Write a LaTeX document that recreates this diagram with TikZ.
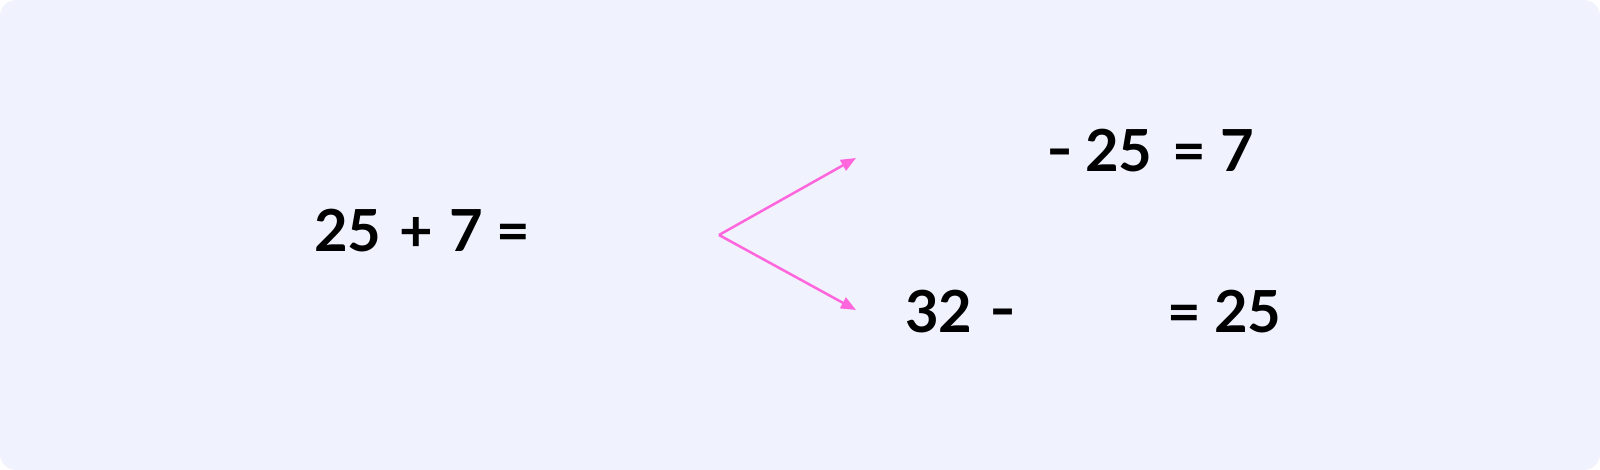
\documentclass[tikz,border=0pt]{standalone}
\usepackage{fontspec}
\setmainfont{Lato}
\usetikzlibrary{arrows.meta}
\definecolor{bgc}{HTML}{F0F3FE}
\definecolor{pinkc}{HTML}{FF66DD}
\newcommand{\mydash}{\raisebox{2.5pt}{\scalebox{1.25}[1]{-}}}
\tikzset{
  eq/.style={anchor=base west, inner sep=0pt, font=\fontsize{58}{70}\selectfont\bfseries, text=black},
  conn/.style={draw=pinkc, line width=2.5pt, -{Triangle[length=15pt,width=12pt]}}
}
\begin{document}
\begin{tikzpicture}[x=1pt,y=-1pt]
\useasboundingbox (0,0) rectangle (1600,470);
\fill[white] (0,0) rectangle (1600,470);
\fill[bgc, rounded corners=16pt] (0,0) rectangle (1600,470);
% left equation
\node[eq] (l1) at (314,252) {25};
\node[eq] (l2) at (399,252) {+};
\node[eq] (l3) at (449,252) {7};
\node[eq] (l4) at (496,252) {=};
% top equation
\node[eq] (t1) at (1046,172) {\mydash};
\node[eq] (t2) at (1085,172) {25};
\node[eq] (t3) at (1172,172) {=};
\node[eq] (t4) at (1220,172) {7};
% bottom equation
\node[eq] (b1) at (905,332) {32};
\node[eq] (b2) at (989,332) {\mydash};
\node[eq] (b3) at (1167,332) {=};
\node[eq] (b4) at (1214,332) {25};
\coordinate (apex) at (719,235);
\coordinate (e1) at (856,158);
\coordinate (e2) at (856,310);
\draw[conn] (apex) -- (e1);
\draw[conn] (apex) -- (e2);
\end{tikzpicture}
\end{document}
